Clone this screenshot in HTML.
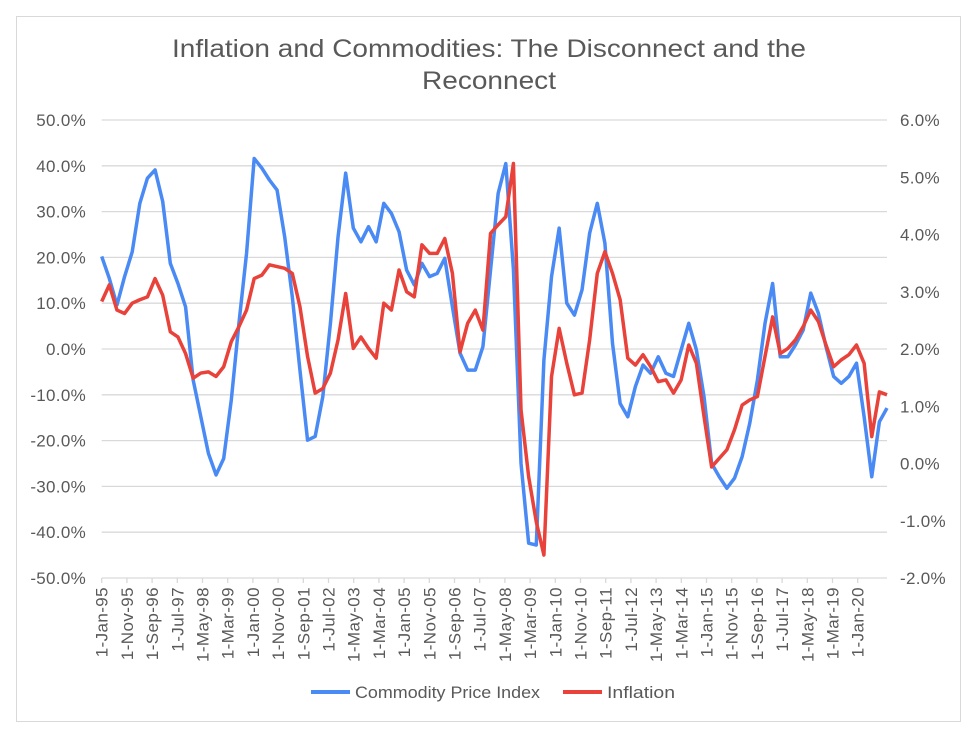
<!DOCTYPE html>
<html><head><meta charset="utf-8"><style>
body{margin:0;background:#fff;}
svg{display:block;font-family:"Liberation Sans",Arial,sans-serif;}
</style></head><body>
<svg id="chart" width="980" height="746" viewBox="0 0 980 746">
<rect x="16.5" y="16.5" width="944" height="705" fill="#fff" stroke="#d9d9d9"/>
<text x="172" y="57" font-size="25" fill="#595959" textLength="634" lengthAdjust="spacingAndGlyphs">Inflation and Commodities: The Disconnect and the</text>
<text x="422" y="89" font-size="25" fill="#595959" textLength="134" lengthAdjust="spacingAndGlyphs">Reconnect</text>
<g id="grid"></g><g id="xaxis"></g><g id="series"></g>
<g>
<line x1="311" y1="692" x2="350" y2="692" stroke="#4a8af4" stroke-width="4"/>
<text x="355" y="698" font-size="17" fill="#595959" textLength="185" lengthAdjust="spacingAndGlyphs">Commodity Price Index</text>
<line x1="563" y1="692" x2="602" y2="692" stroke="#e8423a" stroke-width="4"/>
<text x="607" y="698" font-size="17" fill="#595959" textLength="68" lengthAdjust="spacingAndGlyphs">Inflation</text>
</g>
</svg>
<script>
const leftTicks=[50,40,30,20,10,0,-10,-20,-30,-40,-50];
const rightTicks=[6,5,4,3,2,1,0,-1,-2];
const xLabels=["1-Jan-95","1-Nov-95","1-Sep-96","1-Jul-97","1-May-98","1-Mar-99","1-Jan-00","1-Nov-00","1-Sep-01","1-Jul-02","1-May-03","1-Mar-04","1-Jan-05","1-Nov-05","1-Sep-06","1-Jul-07","1-May-08","1-Mar-09","1-Jan-10","1-Nov-10","1-Sep-11","1-Jul-12","1-May-13","1-Mar-14","1-Jan-15","1-Nov-15","1-Sep-16","1-Jul-17","1-May-18","1-Mar-19","1-Jan-20"];
const commodity=[20.2,15.4,9.6,15.8,21.2,31.8,37.3,39.1,32.2,18.7,14.3,9.2,-6.8,-14.8,-22.8,-27.5,-23.9,-11.1,5.6,20.9,41.6,39.5,36.9,34.7,24.5,11.4,-4.6,-19.9,-19.1,-10.4,5.6,24.5,38.4,26.4,23.4,
26.7,23.4,31.8,29.6,25.6,17.2,14.0,18.7,15.8,16.5,19.8,9.2,-0.9,-4.6,-4.6,0.5,17.2,34.0,40.5,17.4,-25.0,-42.4,-42.8,-2.4,15.8,26.4,10.0,7.4,12.9,25.3,31.8,23.1,1.2,-11.9,
-14.8,-8.2,-3.5,-5.3,-1.7,-5.3,-6.0,-0.2,5.6,-0.2,-10.4,-25.0,-27.9,-30.4,-28.2,-23.5,-16.2,-6.8,5.6,14.3,-1.7,-1.7,0.9,4.1,12.2,7.8,0.5,-6.0,-7.5,-6.0,-3.1,-14.8,-27.9,-15.9,-12.9];
const inflation=[2.83,3.12,2.68,2.62,2.80,2.86,2.91,3.23,2.94,2.30,2.21,1.92,1.49,1.58,1.60,1.52,1.69,2.13,2.39,2.68,3.23,3.29,3.47,3.44,3.41,3.32,2.74,1.87,1.23,1.31,1.58,2.16,2.97,2.01,2.21,
2.01,1.84,2.80,2.68,3.38,3.00,2.91,3.82,3.67,3.67,3.93,3.32,1.95,2.45,2.68,2.33,4.02,4.17,4.31,5.24,0.93,-0.23,-1.02,-1.60,1.52,2.36,1.75,1.20,1.23,2.16,3.32,3.70,3.32,2.86,
1.84,1.72,1.90,1.69,1.43,1.46,1.23,1.46,2.07,1.75,0.82,-0.06,0.09,0.24,0.59,1.02,1.11,1.17,1.87,2.56,1.92,2.01,2.16,2.39,2.68,2.48,2.07,1.69,1.81,1.90,2.07,1.75,0.47,1.25,1.20];
const NS='http://www.w3.org/2000/svg';
const X0=101.7,X1=887,YT=120,YB=578;
const yL=v=>YT+(50-v)/100*(YB-YT);
const yR=v=>YT+(6-v)/8*(YB-YT);
const xI=i=>X0+i*(X1-X0)/(commodity.length-1);
const xM=m=>X0+m*2.52;
function mk(t,a,p){const e=document.createElementNS(NS,t);for(const k in a)e.setAttribute(k,a[k]);p.appendChild(e);return e;}
const grid=document.getElementById('grid'),xa=document.getElementById('xaxis'),se=document.getElementById('series');
leftTicks.forEach(v=>{
 if(v>-50){const l=mk('line',{x1:X0,x2:X1,y1:yL(v),y2:yL(v),stroke:'#d9d9d9','stroke-width':1.3},grid);
 
 }
 const t=mk('text',{x:86,y:yL(v)+6,'font-size':17,fill:'#595959','text-anchor':'end','letter-spacing':0.3},grid);t.textContent=v.toFixed(1)+'%';
 
 
});
rightTicks.forEach(v=>{
 const t=mk('text',{x:900,y:yR(v)+6,'font-size':17,fill:'#595959','letter-spacing':0.3},grid);t.textContent=v.toFixed(1)+'%';
 
 
});
const ax=mk('line',{x1:X0,x2:X1,y1:YB,y2:YB,stroke:'#d9d9d9','stroke-width':1.3},xa);


xLabels.forEach((s,k)=>{
 const x=xM(k*10);
 const tk=mk('line',{x1:x,x2:x,y1:YB,y2:YB+5,stroke:'#d9d9d9','stroke-width':1.3},xa);
 
 
 const t=mk('text',{x:0,y:0,'font-size':17,fill:'#595959','text-anchor':'end','letter-spacing':0.4,transform:`translate(${x+6},${YB+9}) rotate(-90)`},xa);t.textContent=s;
 
 
});
const pc=mk('polyline',{points:commodity.map((v,i)=>xI(i)+','+yL(v)).join(' '),fill:'none',stroke:'#4a8af4','stroke-width':3.5,'stroke-linejoin':'round'},se);


const pi=mk('polyline',{points:inflation.map((v,i)=>xI(i)+','+yR(v)).join(' '),fill:'none',stroke:'#e8423a','stroke-width':3.5,'stroke-linejoin':'round'},se);


</script>
</body></html>
